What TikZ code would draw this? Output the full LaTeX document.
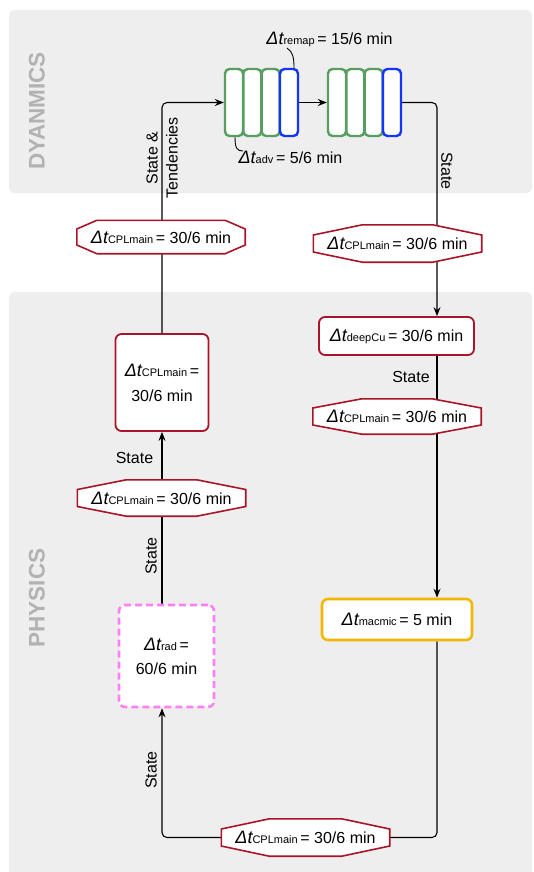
\documentclass[tikz,border=0pt]{standalone}
\usepackage{fontspec}
\setmainfont{Liberation Sans}
\usetikzlibrary{arrows.meta}

\definecolor{panelgray}{RGB}{238,238,238}
\definecolor{titlegray}{RGB}{178,178,178}
\definecolor{cellgreen}{RGB}{88,158,96}
\definecolor{cellblue}{RGB}{20,52,255}
\definecolor{cplred}{RGB}{170,20,40}
\definecolor{radpink}{RGB}{255,128,245}
\definecolor{macgold}{RGB}{242,184,0}

\pgfdeclarelayer{panel}
\pgfdeclarelayer{wires}
\pgfdeclarelayer{frames}
\pgfsetlayers{panel,wires,frames,main}

% time step symbol with a small upright subscript
\newcommand\dtsym[1]{{\fontsize{18}{18}\selectfont\itshape Δt}{\fontsize{11}{11}\selectfont #1}}

% octagonal outline around a named text node: #2 = corner inset, #3 = half side height
\newcommand\octframe[3]{%
  \draw[cplline] ([xshift=#2]#1.north west) -- ([xshift=-#2]#1.north east)
    -- ([yshift=#3]#1.east) -- ([yshift=-#3]#1.east)
    -- ([xshift=-#2]#1.south east) -- ([xshift=#2]#1.south west)
    -- ([yshift=-#3]#1.west) -- ([yshift=#3]#1.west) -- cycle;}

\tikzset{
  wire/.style={draw=black, line width=1.1pt},
  conn/.style={wire, -{Stealth[length=9pt,width=7pt,inset=3pt]}},
  title/.style={rotate=90, text=titlegray, font=\bfseries\fontsize{22.5}{22.5}\selectfont},
  lbl/.style={font=\fontsize{16}{20}\selectfont, inner sep=0pt},
  cell/.style={draw=cellgreen, fill=white, line width=2.4pt, rounded corners=4.5pt,
               minimum width=18pt, minimum height=67pt, inner sep=0pt},
  remapcell/.style={cell, draw=cellblue},
  boxbase/.style={fill=white, inner sep=0pt, align=center, rounded corners=6pt,
                  font=\fontsize{16}{25}\selectfont},
  cplbox/.style={boxbase, draw=cplred, line width=1.8pt},
  radbox/.style={boxbase, draw=radpink, line width=2.6pt, dash pattern=on 7pt off 4pt},
  macbox/.style={boxbase, draw=macgold, line width=2.6pt},
  cpltext/.style={inner sep=0pt, minimum width=168pt, font=\fontsize{16}{20}\selectfont},
  cplline/.style={draw=cplred, fill=white, line width=1.6pt, line join=miter},
}

\begin{document}
\begin{tikzpicture}[x=1pt, y=-1pt]
  \useasboundingbox (0,0) rectangle (534,872);

  % panels
  \begin{pgfonlayer}{panel}
    \fill[white] (0,0) rectangle (534,872);
    \fill[panelgray, rounded corners=6pt] (9,10) rectangle (532,193);
    \fill[panelgray, rounded corners=6pt] (9,292) rectangle (532,900);
  \end{pgfonlayer}
  \node[title] (dyntitle) at (37,111) {DYANMICS};
  \node[title] (phystitle) at (37,598) {PHYSICS};

  % dynamics sub-steps
  \node[cell] (g1) at (234,102.5) {};
  \node[cell] (g2) at (252.3,102.5) {};
  \node[cell] (g3) at (270.6,102.5) {};
  \node[remapcell] (b1) at (289,102.5) {};
  \node[cell] (g5) at (337,102.5) {};
  \node[cell] (g6) at (355.3,102.5) {};
  \node[cell] (g7) at (373.6,102.5) {};
  \node[remapcell] (b2) at (392,102.5) {};

  \node[lbl] (remap) at (329.5,39) {\dtsym{remap}\,= 15/6 min};
  \node[lbl] (adv) at (290.5,157) {\dtsym{adv}\,= 5/6 min};
  \coordinate (remapfoot) at (287,48);
  \coordinate (advfoot) at (243,151);
  \draw[wire, line width=0.9pt] (remapfoot) .. controls (293,52) and (294,58) .. ([xshift=5pt]b1.north);
  \draw[wire, line width=0.9pt] ([xshift=1pt]g1.south) .. controls +(0,11) and (237,151) .. (advfoot);

  % physics boxes
  \node[cplbox, minimum width=93pt, minimum height=97pt] (main) at (162,382.5)
    {\dtsym{CPLmain}\,=\\30/6 min};
  \node[cplbox, minimum width=155pt, minimum height=38pt] (deep) at (396.5,336)
    {\dtsym{deepCu}\,= 30/6 min};
  \node[macbox, minimum width=150pt, minimum height=41pt] (mac) at (397,619.5)
    {\dtsym{macmic}\,= 5 min};
  \node[radbox, minimum width=95pt, minimum height=102pt] (rad) at (166.5,656)
    {\dtsym{rad}\,=\\[-1pt]60/6 min};

  % coupling interval tags
  \node[cpltext, minimum height=33pt] (h1) at (161,237) {\dtsym{CPLmain}\,= 30/6 min};
  \node[cpltext, minimum height=37pt] (h2) at (397.5,243.5) {\dtsym{CPLmain}\,= 30/6 min};
  \node[cpltext, minimum height=35pt] (h3) at (397,416.5) {\dtsym{CPLmain}\,= 30/6 min};
  \node[cpltext, minimum height=36pt] (h4) at (161.5,498) {\dtsym{CPLmain}\,= 30/6 min};
  \node[cpltext, minimum height=37pt] (h5) at (305.5,837.5) {\dtsym{CPLmain}\,= 30/6 min};
  \begin{pgfonlayer}{frames}
    \octframe{h1}{20pt}{8pt}
    \octframe{h2}{49pt}{8.5pt}
    \octframe{h3}{49pt}{8.5pt}
    \octframe{h4}{49pt}{8.5pt}
    \octframe{h5}{48pt}{8.5pt}
  \end{pgfonlayer}

  % connectors
  \coordinate (lx) at (162,0);
  \coordinate (rx) at (437,0);
  \begin{pgfonlayer}{wires}
    \draw[conn, rounded corners=5pt] (main.north) |- (g1.west);
    \draw[conn] (b1.east) -- (g5.west);
    \draw[conn, rounded corners=5pt] (b2.east) -| (deep.north -| rx);
    \draw[conn] (deep.south -| rx) -- (mac.north -| rx);
    \draw[conn, rounded corners=5pt] (mac.south -| rx) |- (h5) -| (rad.south -| lx);
    \draw[conn] (rad.north -| lx) -- (main.south);
  \end{pgfonlayer}

  % flow labels
  \node[lbl, rotate=90, align=center] (st1) at (162,158) {State \&\\Tendencies};
  \node[lbl, rotate=-90] (st2) at (447,171) {State};
  \node[lbl] (st3) at (411,377) {State};
  \node[lbl] (st4) at (134.5,458) {State};
  \node[lbl, rotate=90] (st5) at (151,556) {State};
  \node[lbl, rotate=90] (st6) at (151,770) {State};
\end{tikzpicture}
\end{document}
